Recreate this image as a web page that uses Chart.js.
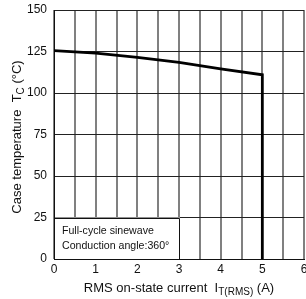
<!DOCTYPE html>
<html>
<head>
<meta charset="utf-8">
<script src="https://cdn.jsdelivr.net/npm/chart.js@4"></script>
<style>
html,body{margin:0;padding:0;background:#fff;}
#wrap{width:306px;height:299px;}
</style>
</head>
<body>
<div id="wrap"><canvas id="c" width="306" height="299"></canvas></div>
<script>
const currentA = [0, 1, 2, 3, 4, 5, 5];
const caseTempC = [125.5, 124, 121.5, 118.5, 114.5, 111, 0];
const xTickLabels = ['0','1','2','3','4','5','6'];
const yTickLabels = ['0','25','50','75','100','125','150'];
const noteLines = ['Full-cycle sinewave', 'Conduction angle:360°'];
const noteBox = {x0: 0, x1: 3, y0: 0, y1: 25};

const FONT = '"Liberation Sans", Arial, sans-serif';

const overlay = {
  id: 'overlay',
  afterDatasetsDraw(chart) {
    const {ctx, scales: {x, y}} = chart;
    const l = x.getPixelForValue(noteBox.x0), r = x.getPixelForValue(noteBox.x1);
    const t = y.getPixelForValue(noteBox.y1), b = y.getPixelForValue(noteBox.y0);
    ctx.save();
    ctx.fillStyle = '#fff';
    ctx.fillRect(l + 1, t, r - l, b - t);
    ctx.strokeStyle = '#111';
    ctx.lineWidth = 1;
    ctx.beginPath();
    ctx.moveTo(Math.round(l) + 0.5, Math.round(t) + 0.5);
    ctx.lineTo(Math.round(r) + 0.5, Math.round(t) + 0.5);
    ctx.lineTo(Math.round(r) + 0.5, Math.round(b) + 0.5);
    ctx.stroke();
    ctx.fillStyle = '#111';
    ctx.font = '10.6px ' + FONT;
    ctx.textBaseline = 'middle';
    ctx.textAlign = 'left';
    ctx.fillText(noteLines[0], l + 8, t + 14);
    ctx.fillText(noteLines[1], l + 8, t + 29);
    ctx.restore();
  },
  afterDraw(chart) {
    const {ctx} = chart;
    ctx.save();
    ctx.fillStyle = '#111';
    ctx.textBaseline = 'alphabetic';
    const big = '13px ' + FONT, small = '10px ' + FONT;
    const parts = [['RMS on-state current  I', big, 0], ['T(RMS)', small, 3], [' (A)', big, 0]];
    let w = 0;
    parts.forEach(p => { ctx.font = p[1]; w += ctx.measureText(p[0]).width; });
    let xx = 179 - w / 2;
    const by = 292;
    parts.forEach(p => { ctx.font = p[1]; ctx.fillText(p[0], xx, by + p[2]); xx += ctx.measureText(p[0]).width; });
    const yparts = [['Case temperature  T', big, 0], ['C', small, 3], [' (°C)', big, 0]];
    let wy = 0;
    yparts.forEach(p => { ctx.font = p[1]; wy += ctx.measureText(p[0]).width; });
    ctx.translate(21, 137);
    ctx.rotate(-Math.PI / 2);
    let yy = -wy / 2;
    yparts.forEach(p => { ctx.font = p[1]; ctx.fillText(p[0], yy, p[2]); yy += ctx.measureText(p[0]).width; });
    ctx.restore();
  }
};

new Chart(document.getElementById('c'), {
  type: 'scatter',
  data: {
    datasets: [{
      data: currentA.map((v, i) => ({x: v, y: caseTempC[i]})),
      showLine: true,
      borderColor: '#000',
      borderWidth: 2.8,
      pointRadius: 0,
      tension: 0,
      fill: false
    }]
  },
  options: {
    responsive: false,
    animation: false,
    devicePixelRatio: 1,
    layout: {padding: {top: 10, right: 2, left: 0, bottom: 0}},
    plugins: {legend: {display: false}, tooltip: {enabled: false}},
    scales: {
      x: {
        type: 'linear', min: 0, max: 6,
        afterFit(s) { s.height = 40; s.paddingLeft = 0; s.paddingRight = 0; },
        ticks: {
          stepSize: 0.5, autoSkip: false, maxRotation: 0, padding: 3,
          color: '#111', font: {family: FONT, size: 12},
          callback: v => Number.isInteger(v) ? xTickLabels[v] : ''
        },
        grid: {color: '#808080', lineWidth: 2, drawTicks: false},
        border: {color: '#111', width: 1}
      },
      y: {
        min: 0, max: 150,
        afterFit(s) { s.width = 54; s.paddingTop = 0; s.paddingBottom = 0; },
        ticks: {
          stepSize: 25, padding: 7, color: '#111', font: {family: FONT, size: 12},
          callback: v => yTickLabels[v / 25]
        },
        grid: {color: '#222', lineWidth: 1, drawTicks: false},
        border: {color: '#111', width: 1}
      }
    }
  },
  plugins: [overlay]
});
</script>
</body>
</html>
